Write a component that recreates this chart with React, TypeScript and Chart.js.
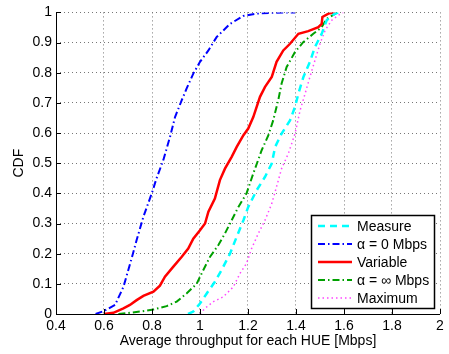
import React, { useEffect, useRef } from "react";
import { Chart, registerables } from "chart.js";

Chart.register(...registerables);

// ---- Data ----
const measureX = [0.95, 0.972, 1.0, 1.028, 1.062, 1.09, 1.125, 1.153, 1.181, 1.201, 1.236, 1.271, 1.299, 1.313, 1.34, 1.375, 1.396, 1.41, 1.431, 1.458, 1.479, 1.507, 1.528, 1.556, 1.576];
const measureY = [0, 0.008, 0.035, 0.068, 0.107, 0.146, 0.2, 0.256, 0.311, 0.355, 0.41, 0.455, 0.499, 0.554, 0.598, 0.642, 0.687, 0.731, 0.786, 0.836, 0.885, 0.929, 0.974, 0.993, 1.0];

const alpha0X = [0.565, 0.6, 0.646, 0.681, 0.715, 0.736, 0.764, 0.799, 0.819, 0.847, 0.875, 0.896, 0.924, 0.944, 0.972, 1.0, 1.035, 1.069, 1.125, 1.18, 1.236, 1.305, 1.396];
const alpha0Y = [0, 0.01, 0.03, 0.09, 0.184, 0.245, 0.322, 0.4, 0.45, 0.51, 0.587, 0.653, 0.709, 0.747, 0.797, 0.836, 0.874, 0.918, 0.962, 0.988, 0.996, 0.999, 1.0];

const variableX = [0.6, 0.639, 0.681, 0.708, 0.736, 0.764, 0.806, 0.833, 0.854, 0.889, 0.924, 0.951, 0.972, 1.0, 1.021, 1.035, 1.062, 1.083, 1.104, 1.132, 1.153, 1.181, 1.201, 1.222, 1.25, 1.271, 1.299, 1.319, 1.347, 1.375, 1.41, 1.451, 1.493, 1.507, 1.51, 1.535, 1.562];
const variableY = [0, 0.004, 0.019, 0.03, 0.046, 0.06, 0.074, 0.094, 0.124, 0.157, 0.19, 0.217, 0.25, 0.278, 0.3, 0.339, 0.383, 0.444, 0.482, 0.521, 0.554, 0.593, 0.615, 0.653, 0.72, 0.753, 0.786, 0.836, 0.874, 0.896, 0.929, 0.938, 0.951, 0.962, 0.985, 0.996, 1.0];

const alphaInfX = [0.66, 0.75, 0.806, 0.861, 0.903, 0.944, 0.986, 1.014, 1.042, 1.076, 1.104, 1.132, 1.16, 1.194, 1.222, 1.257, 1.285, 1.305, 1.326, 1.34, 1.361, 1.396, 1.431, 1.472, 1.507, 1.528, 1.569, 1.583];
const alphaInfY = [0, 0.008, 0.015, 0.026, 0.041, 0.068, 0.1, 0.146, 0.19, 0.228, 0.267, 0.311, 0.355, 0.4, 0.466, 0.543, 0.593, 0.642, 0.709, 0.764, 0.819, 0.869, 0.902, 0.929, 0.951, 0.979, 0.998, 1.0];

const maximumX = [1.0, 1.021, 1.056, 1.097, 1.139, 1.167, 1.194, 1.215, 1.243, 1.271, 1.299, 1.319, 1.34, 1.368, 1.396, 1.417, 1.438, 1.458, 1.479, 1.5, 1.521, 1.549, 1.576, 1.597];
const maximumY = [0, 0.019, 0.041, 0.057, 0.09, 0.135, 0.168, 0.217, 0.267, 0.311, 0.366, 0.422, 0.482, 0.532, 0.598, 0.675, 0.731, 0.786, 0.841, 0.896, 0.94, 0.974, 0.99, 1.0];

const seriesLabels = ["Measure", "\u03b1 = 0 Mbps", "Variable", "\u03b1 = \u221e Mbps", "Maximum"];
const xTickValues = [0.4, 0.6, 0.8, 1.0, 1.2, 1.4, 1.6, 1.8, 2.0];
const yTickValues = [0, 0.1, 0.2, 0.3, 0.4, 0.5, 0.6, 0.7, 0.8, 0.9, 1.0];
const xTitle = "Average throughput for each HUE [Mbps]";
const yTitle = "CDF";

const FONT = "'Liberation Sans', Arial, Helvetica, sans-serif";
const FS = 14;

const styles = [
  { color: "#00ffff", width: 2.5, dash: [7, 5] },
  { color: "#0000ff", width: 2, dash: [7, 3, 1.5, 3] },
  { color: "#ff0000", width: 2.5, dash: [] as number[] },
  { color: "#00a000", width: 2, dash: [7, 3, 1.5, 3] },
  { color: "#ff44ff", width: 1.5, dash: [1.5, 3] },
];

const toPts = (xs: number[], ys: number[]) => xs.map((x, i) => ({ x, y: ys[i] }));

const axisDecor = {
  id: "axisDecor",
  afterDraw(chart: any) {
    const { ctx, chartArea, scales } = chart;
    const xs = scales.x;
    const ys = scales.y;
    ctx.save();
    ctx.strokeStyle = "#000";
    ctx.lineWidth = 1;
    ctx.setLineDash([]);
    // solid axis lines
    ctx.beginPath();
    ctx.moveTo(chartArea.left + 0.5, chartArea.top);
    ctx.lineTo(chartArea.left + 0.5, chartArea.bottom + 0.5);
    ctx.lineTo(chartArea.right, chartArea.bottom + 0.5);
    ctx.stroke();
    // inward ticks
    xTickValues.forEach((v) => {
      const px = Math.round(xs.getPixelForValue(v)) + 0.5;
      ctx.beginPath();
      ctx.moveTo(px, chartArea.bottom);
      ctx.lineTo(px, chartArea.bottom - 5);
      ctx.stroke();
    });
    yTickValues.forEach((v) => {
      const py = Math.round(ys.getPixelForValue(v)) + 0.5;
      ctx.beginPath();
      ctx.moveTo(chartArea.left, py);
      ctx.lineTo(chartArea.left + 5, py);
      ctx.stroke();
    });
    // legend
    const lx = 311, ly = 215, lw = 123, lh = 93;
    ctx.fillStyle = "#fff";
    ctx.fillRect(lx, ly, lw, lh);
    ctx.strokeStyle = "#000";
    ctx.lineWidth = 1.5;
    ctx.strokeRect(lx + 0.5, ly + 0.5, lw, lh);
    ctx.font = `${FS}px ${FONT}`;
    ctx.textBaseline = "middle";
    ctx.textAlign = "left";
    seriesLabels.forEach((lab, i) => {
      const y = ly + 11 + i * 18;
      const s = styles[i];
      ctx.strokeStyle = s.color;
      ctx.lineWidth = s.width;
      ctx.setLineDash(s.dash);
      ctx.beginPath();
      ctx.moveTo(lx + 7, y);
      ctx.lineTo(lx + 41, y);
      ctx.stroke();
      ctx.setLineDash([]);
      ctx.fillStyle = "#000";
      ctx.fillText(lab, lx + 46, y + 1);
    });
    ctx.restore();
  },
};

export default function App() {
  const ref = useRef<HTMLCanvasElement | null>(null);
  useEffect(() => {
    if (!ref.current) return;
    const data = [
      toPts(measureX, measureY),
      toPts(alpha0X, alpha0Y),
      toPts(variableX, variableY),
      toPts(alphaInfX, alphaInfY),
      toPts(maximumX, maximumY),
    ];
    const chart = new Chart(ref.current, {
      type: "line",
      data: {
        datasets: data.map((d, i) => ({
          label: seriesLabels[i],
          data: d,
          borderColor: styles[i].color,
          borderWidth: styles[i].width,
          borderDash: styles[i].dash,
          pointRadius: 0,
          tension: 0,
          fill: false,
        })),
      },
      options: {
        animation: false,
        responsive: false,
        parsing: false as any,
        layout: { padding: { top: 12, right: 9, left: 0, bottom: 0 } },
        plugins: { legend: { display: false }, tooltip: { enabled: false } },
        scales: {
          x: {
            type: "linear",
            min: 0.4,
            max: 2,
            afterFit: (s: any) => { s.height = 40; },
            afterBuildTicks: (s: any) => { s.ticks = xTickValues.map((v) => ({ value: v })); },
            ticks: {
              padding: 4,
              color: "#000",
              font: { family: FONT, size: FS },
              callback: (v: any) => String(Number(Number(v).toFixed(1))),
            },
            grid: { color: "#777", lineWidth: 1, drawTicks: false, tickLength: 0 },
            border: { display: false, dash: [1, 3] } as any,
            title: { display: true, text: xTitle, color: "#000", font: { family: FONT, size: FS }, padding: { top: 0, bottom: 4 } },
          },
          y: {
            type: "linear",
            min: 0,
            max: 1,
            afterFit: (s: any) => { s.width = 56; },
            afterBuildTicks: (s: any) => { s.ticks = yTickValues.map((v) => ({ value: v })); },
            ticks: {
              padding: 4,
              color: "#000",
              font: { family: FONT, size: FS },
              callback: (v: any) => String(Number(Number(v).toFixed(1))),
            },
            grid: { color: "#777", lineWidth: 1, drawTicks: false, tickLength: 0 },
            border: { display: false, dash: [1, 3] } as any,
            title: { display: true, text: yTitle, color: "#000", font: { family: FONT, size: FS }, padding: { top: 11, bottom: 0 } },
          },
        },
      },
      plugins: [axisDecor],
    } as any);
    return () => chart.destroy();
  }, []);
  return (
    <div style={{ position: "absolute", left: 0, top: 0, width: 449, height: 354, background: "#fff" }}>
      <canvas ref={ref} width={449} height={354} style={{ display: "block" }} />
    </div>
  );
}
